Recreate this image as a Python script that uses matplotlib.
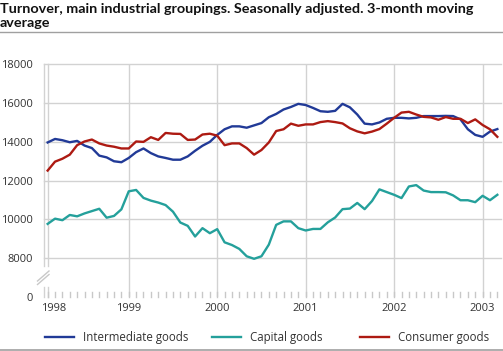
import matplotlib
matplotlib.use("Agg")
import matplotlib.pyplot as plt
import matplotlib.transforms as mtransforms
from matplotlib.lines import Line2D
import numpy as np

# ---- data (monthly, Feb 1998 .. Mar 2003) ----
start_year = 1998
start_month = 2  # February
intermediate = [13970, 14150, 14085, 13980, 14050, 13810, 13680, 13290, 13200, 13000, 12950, 13170,
                13470, 13660, 13420, 13250, 13170, 13080, 13080, 13250, 13540, 13800, 14000, 14360,
                14650, 14800, 14800, 14730, 14850, 14970, 15270, 15440, 15670, 15800, 15960, 15900,
                15750, 15580, 15550, 15600, 15960, 15780, 15410, 14940, 14900, 15000, 15190, 15240,
                15240, 15210, 15240, 15330, 15330, 15330, 15340, 15330, 15160, 14650, 14360, 14260,
                14530, 14660]
capital = [9770, 10040, 9960, 10230, 10160, 10310, 10430, 10550, 10090, 10180, 10520, 11450,
           11520, 11110, 10970, 10870, 10740, 10400, 9840, 9670, 9120, 9550, 9290, 9500,
           8820, 8680, 8480, 8100, 7970, 8100, 8700, 9720, 9900, 9900, 9550, 9430,
           9510, 9510, 9850, 10100, 10530, 10560, 10850, 10530, 10950, 11550, 11410, 11270,
           11100, 11700, 11770, 11490, 11410, 11410, 11400, 11240, 10990, 10990, 10890, 11220,
           10990, 11270]
consumer = [12520, 12980, 13130, 13340, 13830, 14020, 14120, 13920, 13810, 13750, 13660, 13660,
            14020, 14000, 14240, 14100, 14460, 14420, 14410, 14100, 14120, 14380, 14420, 14320,
            13830, 13920, 13920, 13680, 13340, 13580, 13970, 14560, 14650, 14940, 14830, 14900,
            14900, 15020, 15070, 15020, 14950, 14700, 14540, 14440, 14530, 14660, 14940, 15240,
            15510, 15550, 15410, 15290, 15260, 15140, 15280, 15190, 15190, 14970, 15160, 14870,
            14650, 14260]
series_names = ["Intermediate goods", "Capital goods", "Consumer goods"]
series_colors = ["#213a97", "#24a09b", "#ad1a12"]
year_labels = ["1998", "1999", "2000", "2001", "2002", "2003"]
y_ticks = [6000, 8000, 10000, 12000, 14000, 16000, 18000]
y_tick_labels = ["0", "8000", "10000", "12000", "14000", "16000", "18000"]

title_line1 = "Turnover, main industrial groupings. Seasonally adjusted. 3-month moving"
title_line2 = "average"

n = len(intermediate)
x = start_year + (start_month - 1 + np.arange(n)) / 12.0

plt.rcParams['font.family'] = ['Open Sans', 'DejaVu Sans']

W, H = 503, 351
fig = plt.figure(figsize=(W / 100, H / 100), dpi=100)

def fx(px):
    return px / W

def fy(py):
    return 1 - py / H

ax_left, ax_right, ax_top, ax_bottom = 44, 501, 64.3, 297
ax = fig.add_axes([fx(ax_left), fy(ax_bottom), fx(ax_right - ax_left), (ax_bottom - ax_top) / H])

x0 = 1998.042
x1 = 2003.208
ax.set_xlim(x0, x1)
ax.set_ylim(6000, 18000)

grid_c = "#d2d2d2"
for yv in y_ticks[1:]:
    ax.axhline(yv, color=grid_c, lw=1.0, zorder=0, clip_on=False)

first_x = x[0]
year_pos = [first_x] + [float(y) for y in year_labels[1:]]
for xv in year_pos[1:]:
    ax.axvline(xv, color=grid_c, lw=1.0, zorder=0)

# broken left axis line and first-data-point line
for xv in [x0, first_x]:
    ax.plot([xv, xv], [6000, 6530], color=grid_c, lw=1.0, zorder=0, clip_on=False)
    ax.plot([xv, xv], [7600, 18000], color=grid_c, lw=1.0, zorder=0, clip_on=False)

# break marker
for dy in [0, 3.5]:
    fig.add_artist(Line2D([fx(37.5), fx(49)], [fy(281 + dy), fy(271 + dy)],
                          color="#c8c8c8", lw=1.0))

for vals, c in zip([intermediate, capital, consumer], series_colors):
    ax.plot(x, vals, color=c, lw=1.7, solid_joinstyle='round', zorder=3)

for s in ax.spines.values():
    s.set_visible(False)

ax.set_yticks(y_ticks)
ax.set_yticklabels(y_tick_labels)
ax.tick_params(axis='y', length=0, pad=8, labelsize=8, labelcolor="#333333")

ax.set_xticks(year_pos)
ax.set_xticklabels(year_labels)
ax.tick_params(axis='x', length=0, pad=4, labelsize=8, labelcolor="#333333")
lab0 = ax.get_xticklabels()[0]
lab0.set_transform(lab0.get_transform() + mtransforms.ScaledTranslation(6.3 / 100, 0, fig.dpi_scale_trans))

# monthly ticks
months = 1998 + np.arange(1, 5 * 12 + 4) / 12.0
months = months[months <= x1]
for m in months:
    ax.plot([m, m], [6000, 6000 + 5 * 51.3], color="#c8c8c8", lw=1.0, clip_on=False, zorder=1)

# title
tkw = dict(fontsize=10.4, fontweight='bold', color="#111111", va='baseline', ha='left',
           family=['Lato', 'DejaVu Sans'])
fig.text(0.0, fy(12.7), title_line1, **tkw)
fig.text(0.0, fy(26.7), title_line2, **tkw)
fig.add_artist(Line2D([0, 1], [fy(32.3), fy(32.3)], color="#a0a0a0", lw=1.0))
fig.add_artist(Line2D([0, 1], [fy(349.5), fy(349.5)], color="#a0a0a0", lw=1.2))

# legend
leg_x = [45, 212, 360]
for lx, name, c in zip(leg_x, series_names, series_colors):
    fig.add_artist(Line2D([fx(lx), fx(lx + 29)], [fy(337), fy(337)], color=c, lw=1.7))
    fig.text(fx(lx + 38), fy(337), name, fontsize=8.3, color="#333333", va='center', ha='left')

fig.savefig("out.png", dpi=100)
